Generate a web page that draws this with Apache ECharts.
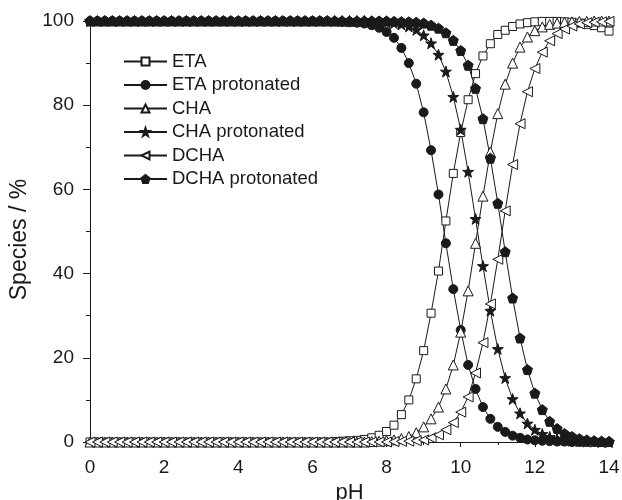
<!DOCTYPE html>
<html>
<head>
<meta charset="utf-8">
<script src="https://cdn.jsdelivr.net/npm/echarts@6/dist/echarts.min.js"></script>
<style>
  html, body { margin: 0; padding: 0; background: #fff; }
  #main { width: 622px; height: 500px; }
</style>
</head>
<body>
<div id="main"></div>
<script>
var dom = document.getElementById("main");
var myChart = echarts.init(dom);

// pH values, step 0.2
var pH = [
    0, 0.2, 0.4, 0.6, 0.8, 1.0, 1.2, 1.4, 1.6, 1.8,
    2.0, 2.2, 2.4, 2.6, 2.8, 3.0, 3.2, 3.4, 3.6, 3.8,
    4.0, 4.2, 4.4, 4.6, 4.8, 5.0, 5.2, 5.4, 5.6, 5.8,
    6.0, 6.2, 6.4, 6.6, 6.8, 7.0, 7.2, 7.4, 7.6, 7.8,
    8.0, 8.2, 8.4, 8.6, 8.8, 9.0, 9.2, 9.4, 9.6, 9.8,
    10.0, 10.2, 10.4, 10.6, 10.8, 11.0, 11.2, 11.4, 11.6, 11.8,
    12.0, 12.2, 12.4, 12.6, 12.8, 13.0, 13.2, 13.4, 13.6, 13.8,
    14.0
];

var eta = [
    0, 0, 0, 0, 0, 0, 0, 0, 0, 0,
    0, 0, 0, 0, 0, 0, 0, 0, 0, 0,
    0, 0, 0, 0, 0, 0, 0, 0, 0, 0,
    0, 0, 0, 0.1, 0.2, 0.3, 0.4, 0.6, 1.0, 1.6,
    2.5, 4.0, 6.5, 10.0, 15.0, 21.7, 30.6, 40.6, 52.5, 63.8,
    73.5, 81.3, 87.5, 91.7, 94.6, 96.8, 97.8, 98.7, 99.3, 99.6,
    99.8, 99.9, 99.9, 99.9, 99.8, 99.7, 99.5, 99.2, 98.9, 98.4,
    97.6
];

var etaProt = [
    100, 100, 100, 100, 100, 100, 100, 100, 100, 100,
    100, 100, 100, 100, 100, 100, 100, 100, 100, 100,
    100, 100, 100, 100, 100, 100, 100, 100, 100, 100,
    100, 100, 100, 99.9, 99.8, 99.7, 99.6, 99.4, 99.0, 98.4,
    97.4, 96.0, 93.6, 90.0, 85.1, 78.3, 69.3, 58.8, 47.2, 36.3,
    26.6, 18.3, 12.6, 8.3, 5.5, 3.6, 2.4, 1.5, 1.0, 0.6,
    0.4, 0.3, 0.2, 0.1, 0.1, 0, 0, 0, 0, 0,
    0
];

var cha = [
    0, 0, 0, 0, 0, 0, 0, 0, 0, 0,
    0, 0, 0, 0, 0, 0, 0, 0, 0, 0,
    0, 0, 0, 0, 0, 0, 0, 0, 0, 0,
    0, 0, 0, 0, 0, 0, 0, 0, 0.1, 0.2,
    0.3, 0.5, 0.8, 1.3, 2.2, 3.6, 5.5, 8.3, 12.6, 18.3,
    26.1, 35.9, 47.2, 58.4, 68.9, 78.0, 85.0, 90.0, 93.8, 96.2,
    97.7, 98.6, 99.2, 99.5, 99.7, 99.8, 99.9, 99.9, 100, 100,
    100
];

var chaProt = [
    100, 100, 100, 100, 100, 100, 100, 100, 100, 100,
    100, 100, 100, 100, 100, 100, 100, 100, 100, 100,
    100, 100, 100, 100, 100, 100, 100, 100, 100, 100,
    100, 100, 100, 100, 100, 100, 100, 100, 99.9, 99.8,
    99.7, 99.5, 99.2, 98.7, 97.9, 96.6, 94.7, 92.0, 88.0, 82.0,
    74.2, 64.2, 53.0, 41.8, 31.2, 22.1, 15.2, 10.2, 6.8, 4.4,
    2.9, 1.9, 1.2, 0.8, 0.5, 0.3, 0.2, 0.1, 0.1, 0,
    0
];

var dcha = [
    0, 0, 0, 0, 0, 0, 0, 0, 0, 0,
    0, 0, 0, 0, 0, 0, 0, 0, 0, 0,
    0, 0, 0, 0, 0, 0, 0, 0, 0, 0,
    0, 0, 0, 0, 0, 0, 0, 0, 0, 0,
    0, 0.1, 0.15, 0.2, 0.3, 0.5, 1.0, 1.7, 2.9, 4.6,
    7.1, 10.7, 16.4, 23.6, 32.8, 43.4, 54.9, 65.9, 75.6, 83.2,
    88.7, 92.6, 95.3, 97.0, 98.1, 98.8, 99.3, 99.6, 99.7, 99.8,
    99.9
];

var dchaProt = [
    100, 100, 100, 100, 100, 100, 100, 100, 100, 100,
    100, 100, 100, 100, 100, 100, 100, 100, 100, 100,
    100, 100, 100, 100, 100, 100, 100, 100, 100, 100,
    100, 100, 100, 100, 100, 100, 100, 100, 100, 100,
    100, 99.9, 99.85, 99.8, 99.7, 99.5, 99.0, 98.3, 97.2, 95.4,
    93.0, 89.5, 84.0, 76.8, 67.4, 56.7, 45.2, 34.2, 24.7, 17.2,
    11.6, 7.7, 4.9, 3.2, 2.0, 1.3, 0.8, 0.5, 0.3, 0.2,
    0.1
];

var names = ['ETA', 'ETA protonated', 'CHA', 'CHA protonated', 'DCHA', 'DCHA protonated'];

var starPath = 'path://M0,-10L2.35,-3.24L9.51,-3.09L3.8,1.24L5.88,8.09L0,4L-5.88,8.09L-3.8,1.24L-9.51,-3.09L-2.35,-3.24Z';
var pentPath = 'path://M0,-10L9.51,-3.09L5.88,8.09L-5.88,8.09L-9.51,-3.09Z';

var ink = '#1a1a1a';
var font = 'Liberation Sans, Arial, sans-serif';

function pairs(vals) {
    return pH.map(function (x, i) { return [x, vals[i]]; });
}

function mkSeries(name, vals, symbol, size, filled, rotate) {
    return {
        name: name,
        type: 'line',
        data: pairs(vals),
        symbol: symbol,
        symbolSize: size,
        symbolRotate: rotate || 0,
        showAllSymbol: true,
        lineStyle: { color: ink, width: 1 },
        itemStyle: {
            color: filled ? ink : '#fff',
            borderColor: ink,
            borderWidth: 1
        },
        emphasis: { disabled: true }
    };
}

option = null;
option = {
    animation: false,
    backgroundColor: '#fff',
    textStyle: { fontFamily: font, color: ink },
    grid: { left: 90, right: 13, top: 21, bottom: 58, outerBoundsMode: 'none', containLabel: false },
    legend: {
        orient: 'vertical',
        left: 118,
        top: 47,
        itemWidth: 43,
        itemHeight: 10,
        itemGap: 4.5,
        textStyle: { fontSize: 18.5, color: ink, fontFamily: font, lineHeight: 18 },
        data: names
    },
    xAxis: [
        {
            type: 'value',
            min: 0,
            max: 14,
            interval: 2,
            name: 'pH',
            nameLocation: 'middle',
            nameGap: 38,
            nameTextStyle: { fontSize: 22, color: ink, fontFamily: font },
            axisLine: { lineStyle: { color: ink, width: 1 } },
            axisTick: { show: true, inside: false, length: 5, lineStyle: { color: ink } },
            minorTick: { show: true, splitNumber: 2, length: 3, lineStyle: { color: ink } },
            axisLabel: { fontSize: 19, color: ink, margin: 16, fontFamily: font },
            splitLine: { show: false }
        },
        {
            type: 'value',
            position: 'top',
            min: 0,
            max: 14,
            axisLine: { show: true, lineStyle: { color: ink, width: 1 } },
            axisTick: { show: false },
            axisLabel: { show: false },
            splitLine: { show: false }
        }
    ],
    yAxis: [
        {
            type: 'value',
            min: 0,
            max: 100,
            interval: 20,
            name: 'Species / %',
            nameLocation: 'middle',
            nameGap: 50,
            nameTextStyle: { fontSize: 23, color: ink, fontFamily: font, padding: [0, 16, 0, 0] },
            axisLine: { show: true, lineStyle: { color: ink, width: 1 } },
            axisTick: { show: true, inside: false, length: 7, lineStyle: { color: ink } },
            minorTick: { show: true, splitNumber: 2, length: 4, lineStyle: { color: ink } },
            axisLabel: { fontSize: 19, color: ink, margin: 16, fontFamily: font },
            splitLine: { show: false }
        },
        {
            type: 'value',
            position: 'right',
            min: 0,
            max: 100,
            interval: 10,
            axisLine: { show: true, lineStyle: { color: ink, width: 1 } },
            axisTick: { show: true, inside: true, length: 3, lineStyle: { color: ink } },
            axisLabel: { show: false },
            splitLine: { show: false }
        }
    ],
    series: [
        mkSeries(names[0], eta, 'rect', 8, false),
        mkSeries(names[1], etaProt, 'circle', 9, true),
        mkSeries(names[2], cha, 'triangle', 10, false),
        mkSeries(names[3], chaProt, starPath, 11, true),
        mkSeries(names[4], dcha, 'triangle', 10, false, 90),
        mkSeries(names[5], dchaProt, pentPath, 10, true)
    ]
};

if (option && typeof option === "object") {
    myChart.setOption(option, true);
}
</script>
</body>
</html>
